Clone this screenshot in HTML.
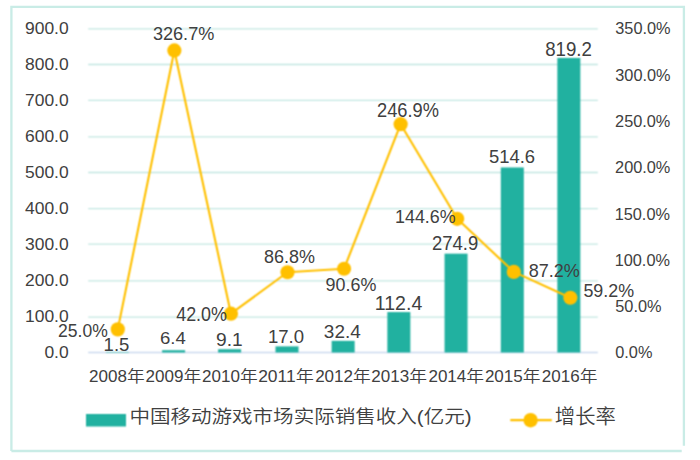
<!DOCTYPE html>
<html><head><meta charset="utf-8"><title>中国移动游戏市场实际销售收入</title>
<style>
html,body{margin:0;padding:0;background:#fff;width:700px;height:460px;overflow:hidden}
svg{display:block}
svg text{font-family:"Liberation Sans","Noto Sans CJK SC",sans-serif}
</style></head><body>
<svg width="700" height="460" viewBox="0 0 700 460">
<defs><filter id="soft" x="0" y="0" width="1" height="1" color-interpolation-filters="sRGB"><feConvolveMatrix order="3" kernelMatrix="1 2 1 2 4 2 1 2 1" divisor="16" edgeMode="duplicate"/></filter></defs>
<g filter="url(#soft)">
<rect width="700" height="460" fill="#fff"/>
<line x1="88.2" x2="597.8" y1="317.20" y2="317.20" stroke="#c3e7e2" stroke-width="1.3"/>
<line x1="88.2" x2="597.8" y1="280.90" y2="280.90" stroke="#c3e7e2" stroke-width="1.3"/>
<line x1="88.2" x2="597.8" y1="244.20" y2="244.20" stroke="#c3e7e2" stroke-width="1.3"/>
<line x1="88.2" x2="597.8" y1="208.60" y2="208.60" stroke="#c3e7e2" stroke-width="1.3"/>
<line x1="88.2" x2="597.8" y1="172.50" y2="172.50" stroke="#c3e7e2" stroke-width="1.3"/>
<line x1="88.2" x2="597.8" y1="136.90" y2="136.90" stroke="#c3e7e2" stroke-width="1.3"/>
<line x1="88.2" x2="597.8" y1="100.40" y2="100.40" stroke="#c3e7e2" stroke-width="1.3"/>
<line x1="88.2" x2="597.8" y1="64.50" y2="64.50" stroke="#c3e7e2" stroke-width="1.3"/>
<line x1="88.2" x2="597.8" y1="28.90" y2="28.90" stroke="#c3e7e2" stroke-width="1.3"/>
<line x1="88.2" x2="597.8" y1="352.5" y2="352.5" stroke="#cbd9ee" stroke-width="1.3"/>
<rect x="105.85" y="351.96" width="23.0" height="0.54" fill="#21b1a0"/>
<rect x="162.10" y="350.20" width="23.0" height="2.30" fill="#21b1a0"/>
<rect x="218.10" y="349.23" width="23.0" height="3.27" fill="#21b1a0"/>
<rect x="275.50" y="346.39" width="23.0" height="6.11" fill="#21b1a0"/>
<rect x="331.65" y="340.85" width="23.0" height="11.65" fill="#21b1a0"/>
<rect x="387.35" y="312.09" width="23.0" height="40.41" fill="#21b1a0"/>
<rect x="444.55" y="253.66" width="23.0" height="98.84" fill="#21b1a0"/>
<rect x="500.80" y="167.47" width="23.0" height="185.03" fill="#21b1a0"/>
<rect x="557.35" y="57.95" width="23.0" height="294.55" fill="#21b1a0"/>
<polyline points="117.79,329.39 174.36,50.44 230.93,313.67 287.50,272.25 344.07,268.73 400.64,124.22 457.21,218.81 513.78,271.88 570.35,297.77" fill="none" stroke="#ffc000" stroke-width="2.1" stroke-linejoin="round"/>
<circle cx="117.79" cy="329.39" r="7.1" fill="#ffc000"/>
<circle cx="174.36" cy="50.44" r="7.1" fill="#ffc000"/>
<circle cx="230.93" cy="313.67" r="7.1" fill="#ffc000"/>
<circle cx="287.50" cy="272.25" r="7.1" fill="#ffc000"/>
<circle cx="344.07" cy="268.73" r="7.1" fill="#ffc000"/>
<circle cx="400.64" cy="124.22" r="7.1" fill="#ffc000"/>
<circle cx="457.21" cy="218.81" r="7.1" fill="#ffc000"/>
<circle cx="513.78" cy="271.88" r="7.1" fill="#ffc000"/>
<circle cx="570.35" cy="297.77" r="7.1" fill="#ffc000"/>
<rect x="86" y="414" width="40" height="12.5" fill="#21b1a0"/>
<line x1="510.3" x2="551.8" y1="420.2" y2="420.2" stroke="#ffc000" stroke-width="2.3"/>
<circle cx="530.6" cy="420.2" r="7.2" fill="#ffc000"/>
</g>
<path d="M11.4,451 L11.4,6.8 L683.9,6.8 L683.9,445.7 M11.4,451 L681.7,451" fill="none" stroke="#c9ece6" stroke-width="2.3"/>
<text x="44.41" y="358.34" font-size="16.24" textLength="24.28" lengthAdjust="spacingAndGlyphs" fill="#404040">0.0</text>
<text x="24.98" y="322.32" font-size="16.24" textLength="43.70" lengthAdjust="spacingAndGlyphs" fill="#404040">100.0</text>
<text x="24.98" y="286.30" font-size="16.24" textLength="43.70" lengthAdjust="spacingAndGlyphs" fill="#404040">200.0</text>
<text x="24.98" y="250.27" font-size="16.24" textLength="43.70" lengthAdjust="spacingAndGlyphs" fill="#404040">300.0</text>
<text x="24.98" y="214.25" font-size="16.24" textLength="43.70" lengthAdjust="spacingAndGlyphs" fill="#404040">400.0</text>
<text x="24.98" y="178.23" font-size="16.24" textLength="43.70" lengthAdjust="spacingAndGlyphs" fill="#404040">500.0</text>
<text x="24.98" y="142.21" font-size="16.24" textLength="43.70" lengthAdjust="spacingAndGlyphs" fill="#404040">600.0</text>
<text x="24.98" y="106.19" font-size="16.24" textLength="43.70" lengthAdjust="spacingAndGlyphs" fill="#404040">700.0</text>
<text x="24.98" y="70.16" font-size="16.24" textLength="43.70" lengthAdjust="spacingAndGlyphs" fill="#404040">800.0</text>
<text x="24.98" y="34.14" font-size="16.24" textLength="43.70" lengthAdjust="spacingAndGlyphs" fill="#404040">900.0</text>
<text x="615.26" y="358.43" font-size="16.95" textLength="37.17" lengthAdjust="spacingAndGlyphs" fill="#404040">0.0%</text>
<text x="615.25" y="312.13" font-size="16.95" textLength="46.23" lengthAdjust="spacingAndGlyphs" fill="#404040">50.0%</text>
<text x="614.66" y="265.83" font-size="16.95" textLength="55.30" lengthAdjust="spacingAndGlyphs" fill="#404040">100.0%</text>
<text x="614.66" y="219.53" font-size="16.95" textLength="55.30" lengthAdjust="spacingAndGlyphs" fill="#404040">150.0%</text>
<text x="615.08" y="173.23" font-size="16.95" textLength="55.30" lengthAdjust="spacingAndGlyphs" fill="#404040">200.0%</text>
<text x="615.08" y="126.93" font-size="16.95" textLength="55.30" lengthAdjust="spacingAndGlyphs" fill="#404040">250.0%</text>
<text x="615.28" y="80.63" font-size="16.95" textLength="55.30" lengthAdjust="spacingAndGlyphs" fill="#404040">300.0%</text>
<text x="615.28" y="34.33" font-size="16.95" textLength="55.30" lengthAdjust="spacingAndGlyphs" fill="#404040">350.0%</text>
<text x="103.59" y="351.32" font-size="18.49" textLength="25.79" lengthAdjust="spacingAndGlyphs" fill="#404040">1.5</text>
<text x="160.06" y="344.14" font-size="16.53" textLength="25.79" lengthAdjust="spacingAndGlyphs" fill="#404040">6.4</text>
<text x="216.00" y="346.21" font-size="19.07" textLength="26.63" lengthAdjust="spacingAndGlyphs" fill="#404040">9.1</text>
<text x="267.89" y="343.41" font-size="19.21" textLength="36.14" lengthAdjust="spacingAndGlyphs" fill="#404040">17.0</text>
<text x="323.88" y="338.12" font-size="18.79" textLength="36.88" lengthAdjust="spacingAndGlyphs" fill="#404040">32.4</text>
<text x="374.86" y="310.00" font-size="20.34" textLength="47.40" lengthAdjust="spacingAndGlyphs" fill="#404040">112.4</text>
<text x="431.97" y="249.51" font-size="19.35" textLength="46.31" lengthAdjust="spacingAndGlyphs" fill="#404040">274.9</text>
<text x="488.96" y="162.71" font-size="19.21" textLength="46.15" lengthAdjust="spacingAndGlyphs" fill="#404040">514.6</text>
<text x="545.19" y="56.00" font-size="20.76" textLength="46.75" lengthAdjust="spacingAndGlyphs" fill="#404040">819.2</text>
<text x="58.02" y="336.72" font-size="18.93" textLength="49.71" lengthAdjust="spacingAndGlyphs" fill="#404040">25.0%</text>
<text x="152.91" y="39.52" font-size="18.36" textLength="61.44" lengthAdjust="spacingAndGlyphs" fill="#404040">326.7%</text>
<text x="176.19" y="320.70" font-size="20.20" textLength="50.75" lengthAdjust="spacingAndGlyphs" fill="#404040">42.0%</text>
<text x="264.12" y="262.62" font-size="18.93" textLength="50.92" lengthAdjust="spacingAndGlyphs" fill="#404040">86.8%</text>
<text x="325.56" y="290.51" font-size="19.21" textLength="50.78" lengthAdjust="spacingAndGlyphs" fill="#404040">90.6%</text>
<text x="376.98" y="116.90" font-size="20.48" textLength="61.97" lengthAdjust="spacingAndGlyphs" fill="#404040">246.9%</text>
<text x="395.04" y="223.42" font-size="18.22" textLength="60.60" lengthAdjust="spacingAndGlyphs" fill="#404040">144.6%</text>
<text x="528.72" y="277.42" font-size="18.64" textLength="51.13" lengthAdjust="spacingAndGlyphs" fill="#404040">87.2%</text>
<text x="583.38" y="296.92" font-size="18.93" textLength="50.65" lengthAdjust="spacingAndGlyphs" fill="#404040">59.2%</text>
<text x="89.03" y="382.15" font-size="15.68" textLength="55.67" lengthAdjust="spacingAndGlyphs" fill="#404040">2008<tspan font-size="16.34" font-weight="350" dy="-0.5">年</tspan></text>
<text x="145.52" y="382.15" font-size="15.68" textLength="55.67" lengthAdjust="spacingAndGlyphs" fill="#404040">2009<tspan font-size="16.34" font-weight="350" dy="-0.5">年</tspan></text>
<text x="202.12" y="382.15" font-size="15.68" textLength="55.67" lengthAdjust="spacingAndGlyphs" fill="#404040">2010<tspan font-size="16.34" font-weight="350" dy="-0.5">年</tspan></text>
<text x="258.16" y="382.15" font-size="15.68" textLength="55.67" lengthAdjust="spacingAndGlyphs" fill="#404040">2011<tspan font-size="16.34" font-weight="350" dy="-0.5">年</tspan></text>
<text x="315.15" y="382.15" font-size="15.68" textLength="55.67" lengthAdjust="spacingAndGlyphs" fill="#404040">2012<tspan font-size="16.34" font-weight="350" dy="-0.5">年</tspan></text>
<text x="371.29" y="382.15" font-size="15.68" textLength="55.67" lengthAdjust="spacingAndGlyphs" fill="#404040">2013<tspan font-size="16.34" font-weight="350" dy="-0.5">年</tspan></text>
<text x="428.43" y="382.15" font-size="15.68" textLength="55.67" lengthAdjust="spacingAndGlyphs" fill="#404040">2014<tspan font-size="16.34" font-weight="350" dy="-0.5">年</tspan></text>
<text x="484.90" y="382.15" font-size="15.68" textLength="55.67" lengthAdjust="spacingAndGlyphs" fill="#404040">2015<tspan font-size="16.34" font-weight="350" dy="-0.5">年</tspan></text>
<text x="541.82" y="382.15" font-size="15.68" textLength="55.67" lengthAdjust="spacingAndGlyphs" fill="#404040">2016<tspan font-size="16.34" font-weight="350" dy="-0.5">年</tspan></text>
<text x="129.43" y="422.53" font-size="18.61" textLength="342.14" lengthAdjust="spacingAndGlyphs" fill="#404040" font-weight="350">中国移动游戏市场实际销售收入(亿元)</text>
<text x="554.87" y="424.08" font-size="20.28" textLength="61.05" lengthAdjust="spacingAndGlyphs" fill="#404040" font-weight="350">增长率</text>
</svg>
</body></html>
